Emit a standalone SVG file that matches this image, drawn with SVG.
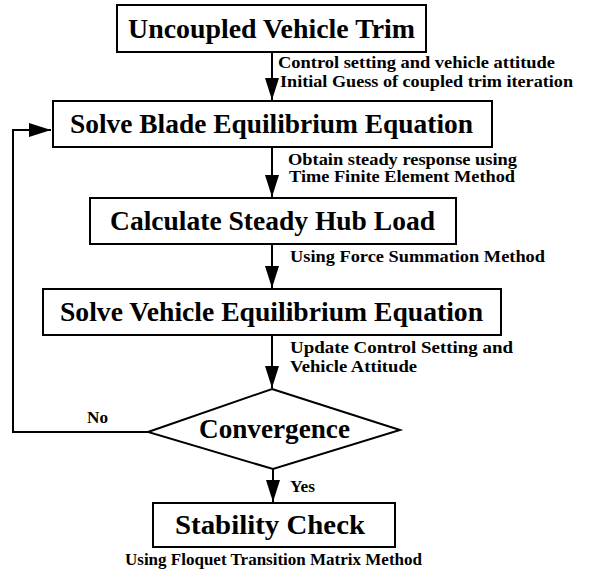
<svg xmlns="http://www.w3.org/2000/svg" width="590" height="570" viewBox="0 0 590 570">
<style>
.box{fill:#fff;stroke:#000;stroke-width:2}
.title{font-family:"Liberation Serif","Times New Roman",serif;font-weight:bold;font-size:27px;fill:#000}
.lbl{font-family:"Liberation Serif","Times New Roman",serif;font-weight:bold;font-size:16px;fill:#000}
.edge{fill:none;stroke:#000;stroke-width:2}
</style>
<defs>
<marker id="ah" markerUnits="userSpaceOnUse" markerWidth="24" markerHeight="16" refX="22" refY="7" orient="auto">
<path d="M0,0 L22,7 L0,14 Z" fill="#000"/>
</marker>
</defs>
<rect width="590" height="570" fill="#fff"/>
<g id="connectors">
<line class="edge" x1="272" y1="52" x2="272" y2="100" marker-end="url(#ah)"/>
<line class="edge" x1="272" y1="147" x2="272" y2="197" marker-end="url(#ah)"/>
<line class="edge" x1="272" y1="244" x2="272" y2="288" marker-end="url(#ah)"/>
<line class="edge" x1="272" y1="335" x2="272" y2="388" marker-end="url(#ah)"/>
<line class="edge" x1="273" y1="469" x2="273" y2="502" marker-end="url(#ah)"/>
<polyline class="edge" points="148,432 13,432 13,130 51,130" marker-end="url(#ah)"/>
<text class="lbl" x="278" y="68" textLength="277" lengthAdjust="spacingAndGlyphs">Control setting and vehicle attitude</text>
<text class="lbl" x="280" y="87" textLength="293" lengthAdjust="spacingAndGlyphs">Initial Guess of coupled trim iteration</text>
<text class="lbl" x="288" y="165" textLength="229" lengthAdjust="spacingAndGlyphs">Obtain steady response using</text>
<text class="lbl" x="289" y="182" textLength="226" lengthAdjust="spacingAndGlyphs">Time Finite Element Method</text>
<text class="lbl" x="290" y="262" textLength="255" lengthAdjust="spacingAndGlyphs">Using Force Summation Method</text>
<text class="lbl" x="290" y="353" textLength="223" lengthAdjust="spacingAndGlyphs">Update Control Setting and</text>
<text class="lbl" x="290" y="372" textLength="127" lengthAdjust="spacingAndGlyphs">Vehicle Attitude</text>
<text class="lbl" x="87" y="423" textLength="21" lengthAdjust="spacingAndGlyphs">No</text>
<text class="lbl" x="290" y="492" textLength="25" lengthAdjust="spacingAndGlyphs">Yes</text>
</g>
<g id="n1">
<rect class="box" x="117" y="5" width="309" height="47"/>
<text class="title" x="128" y="38" textLength="287" lengthAdjust="spacingAndGlyphs">Uncoupled Vehicle Trim</text>
</g>
<g id="n2">
<rect class="box" x="53" y="101" width="439" height="46"/>
<text class="title" x="70" y="133" textLength="403" lengthAdjust="spacingAndGlyphs">Solve Blade Equilibrium Equation</text>
</g>
<g id="n3">
<rect class="box" x="90" y="198" width="366" height="46"/>
<text class="title" x="110" y="230" textLength="325" lengthAdjust="spacingAndGlyphs">Calculate Steady Hub Load</text>
</g>
<g id="n4">
<rect class="box" x="43" y="289" width="458" height="46"/>
<text class="title" x="60" y="321" textLength="423" lengthAdjust="spacingAndGlyphs">Solve Vehicle Equilibrium Equation</text>
</g>
<g id="n5">
<polygon class="box" points="272,389 400,430 273,469 148,432"/>
<text class="title" x="199" y="438" textLength="151" lengthAdjust="spacingAndGlyphs">Convergence</text>
</g>
<g id="n6">
<rect class="box" x="153" y="503" width="242" height="44"/>
<text class="title" x="175" y="534" textLength="190" lengthAdjust="spacingAndGlyphs">Stability Check</text>
<text class="lbl" x="125" y="565" textLength="297" lengthAdjust="spacingAndGlyphs">Using Floquet Transition Matrix Method</text>
</g>
</svg>
